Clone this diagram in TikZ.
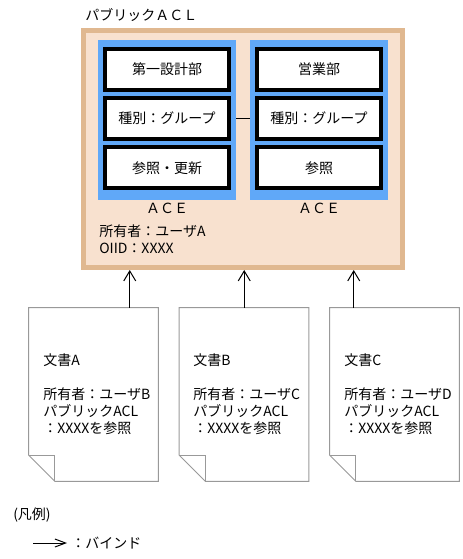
\documentclass[tikz,border=0pt]{standalone}
\usepackage{fontspec}
\setmainfont{Noto Sans CJK JP}
\usetikzlibrary{arrows.meta}
\definecolor{aclborder}{HTML}{E0B890}
\definecolor{aclfill}{HTML}{F8E1CF}
\definecolor{aceblue}{HTML}{60A8F8}
\definecolor{docgray}{HTML}{999999}
\begin{document}
\begin{tikzpicture}[x=0.75pt,y=-0.75pt,
  font=\fontsize{10.5pt}{12.75pt}\selectfont,
  aclbox/.style={draw=aclborder, line width=3.75pt, fill=aclfill, inner sep=0,
    minimum width=239.25pt, minimum height=177.75pt},
  acebox/.style={fill=aceblue, inner sep=0, minimum width=103.5pt, minimum height=120pt},
  entry/.style={draw=black, line width=3pt, fill=white, inner sep=0,
    minimum width=93pt, minimum height=30.75pt},
  docbox/.style={inner sep=0, minimum width=96.75pt, minimum height=129.75pt},
  docline/.style={draw=docgray, line width=0.75pt},
  doctext/.style={anchor=west, inner sep=0, align=left},
  label/.style={inner sep=0},
  plain/.style={draw=black, line width=0.75pt},
  bind/.style={draw=black, line width=0.75pt, -{Straight Barb[length=7.5pt,width=9pt,line width=0.75pt]}},
  bindlegend/.style={draw=black, line width=0.75pt, -{Straight Barb[length=8pt,width=6pt,line width=0.75pt]}}
]
\useasboundingbox (0,0) rectangle (462,559);

% Public ACL
\node[label, anchor=west] (title) at (85,15) {パブリックＡＣＬ};
\node[aclbox] (acl) at (243,149) {};

% ACE boxes
\node[acebox] (aceL) at (167,120) {};
\node[acebox] (aceR) at (319,120) {};

\node[entry] (l1) at (167,69.5) {第一設計部};
\node[entry] (l2) at (167,118.5) {種別：グループ};
\node[entry] (l3) at (167,168) {参照・更新};

\node[entry] (r1) at (319,69.5) {営業部};
\node[entry] (r2) at (319,118.5) {種別：グループ};
\node[entry] (r3) at (319,168) {参照};

\draw[plain] (aceL.east |- l2) -- (aceR.west |- r2);

\node[label] (aceLlabel) at (167,208) {ＡＣＥ};
\node[label] (aceRlabel) at (319,208) {ＡＣＥ};

\node[label, anchor=west] (owner) at (99,231) {所有者：ユーザA};
\node[label, anchor=west] (oiid) at (99,248) {OIID：XXXX};

% Documents
\foreach \n/\cx/\tx/\u/\d in {A/93.5/43/B/75.75pt, B/244/193/C/48.75pt, C/394.5/344/D/18pt}{
  \node[docbox] (doc\n) at (\cx,394.5) {};
  \draw[docline] (doc\n.north west) -- (doc\n.north east) -- (doc\n.south east)
    -- ([xshift=19.5pt]doc\n.south west) -- ([yshift=19.5pt]doc\n.south west) -- cycle;
  \draw[docline] ([yshift=19.5pt]doc\n.south west) -- ([xshift=19.5pt,yshift=19.5pt]doc\n.south west)
    -- ([xshift=19.5pt]doc\n.south west);
  \node[doctext] (text\n) at (\tx,394) {文書\n\\[12.75pt]所有者：ユーザ\u\\パブリックACL\\：XXXXを参照};
  \coordinate (p\n) at ([xshift=\d]doc\n.north west);
  \draw[bind] (p\n) -- (p\n |- acl.south);
}

% Legend
\node[label, anchor=west] (legend) at (13,515) {(凡例)};
\coordinate (lg) at (33,543);
\node[label, anchor=west] (bindtext) at (71,543) {：バインド};
\draw[bindlegend] (lg) -- ([xshift=-3pt]bindtext.west);
\end{tikzpicture}
\end{document}
